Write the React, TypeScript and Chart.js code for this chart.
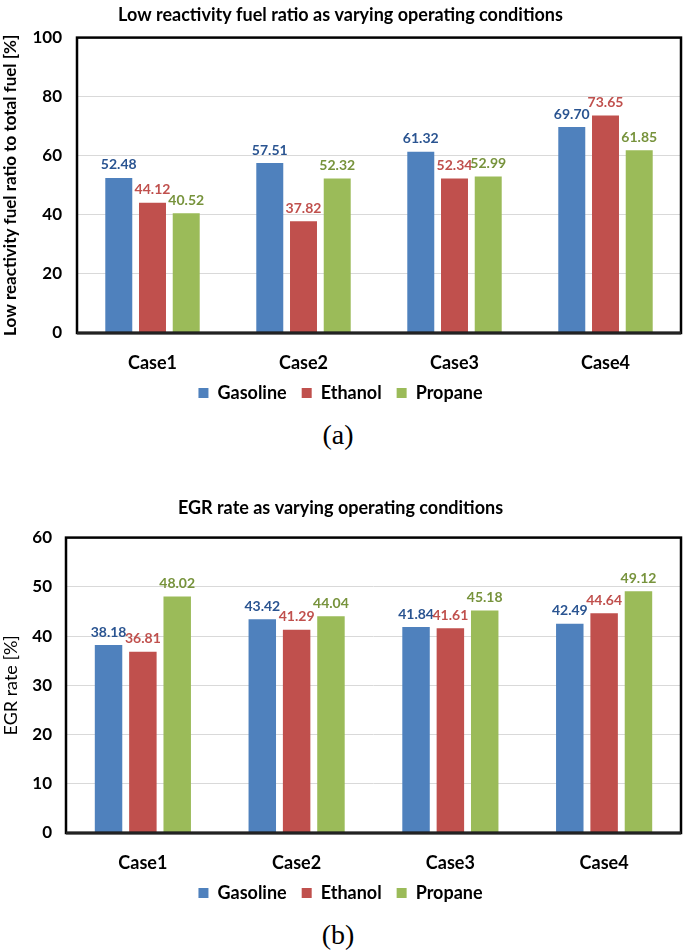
import React, { useEffect, useRef } from "react";
import { Chart, registerables } from "chart.js";

Chart.register(...registerables);

const categories = ["Case1", "Case2", "Case3", "Case4"];
const seriesNames = ["Gasoline", "Ethanol", "Propane"];

const ratioGasoline = [52.48, 57.51, 61.32, 69.7];
const ratioEthanol = [44.12, 37.82, 52.34, 73.65];
const ratioPropane = [40.52, 52.32, 52.99, 61.85];

const egrGasoline = [38.18, 43.42, 41.84, 42.49];
const egrEthanol = [36.81, 41.29, 41.61, 44.64];
const egrPropane = [48.02, 44.04, 45.18, 49.12];

const ratioTicksMax = 100;
const ratioTicksStep = 20;
const egrTicksMax = 60;
const egrTicksStep = 10;

const barColors = ["#4F81BD", "#C0504D", "#9BBB59"];
const labelColors = ["#2A5491", "#C0504D", "#77933C"];

const FONT = 'Lato, "Open Sans", "Liberation Sans", sans-serif';

const valueLabelPlugin = {
  id: "valueLabels",
  afterDatasetsDraw(chart: any) {
    const ctx = chart.ctx;
    const { left, top, right, bottom } = chart.chartArea;
    ctx.save();
    ctx.strokeStyle = "#000";
    ctx.lineWidth = 2.5;
    ctx.strokeRect(left, top, right - left, bottom - top);
    ctx.beginPath();
    ctx.lineWidth = 3;
    ctx.strokeStyle = "#222";
    ctx.moveTo(left, bottom);
    ctx.lineTo(right, bottom);
    ctx.stroke();
    ctx.font = `bold 14px ${FONT}`;
    ctx.textAlign = "center";
    ctx.textBaseline = "middle";
    chart.data.datasets.forEach((ds: any, i: number) => {
      const meta = chart.getDatasetMeta(i);
      ctx.fillStyle = labelColors[i];
      meta.data.forEach((el: any, j: number) => {
        ctx.fillText(Number(ds.data[j]).toFixed(2), el.x, el.y - 13);
      });
    });
    ctx.restore();
  },
};

function makeConfig(
  title: string,
  yTitle: string,
  yTitleBold: boolean,
  series: number[][],
  max: number,
  step: number,
  axisWidth: number,
  tickPad: number,
  titlePad: { top: number; bottom: number }
): any {
  return {
    type: "bar",
    data: {
      labels: categories,
      datasets: series.map((d, i) => ({
        label: seriesNames[i],
        data: d,
        backgroundColor: barColors[i],
        borderWidth: 0,
        categoryPercentage: 0.67,
        barPercentage: 0.8,
      })),
    },
    options: {
      responsive: false,
      animation: false,
      devicePixelRatio: 1,
      layout: { padding: { left: 0, right: 4, top: 0, bottom: 0 } },
      plugins: {
        title: {
          display: true,
          text: title,
          color: "#000",
          font: { family: FONT, size: 18, weight: "bold" },
          padding: titlePad,
        },
        legend: {
          display: true,
          position: "bottom",
          labels: {
            boxWidth: 10,
            boxHeight: 10,
            color: "#000",
            padding: 15,
            font: { family: FONT, size: 18, weight: "bold" },
          },
        },
        tooltip: { enabled: false },
      },
      scales: {
        x: {
          grid: { display: false, drawTicks: false },
          border: { display: false },
          ticks: {
            color: "#000",
            padding: 19,
            font: { family: FONT, size: 18, weight: "bold" },
          },
          afterFit(scale: any) {
            scale.height = 36;
          },
        },
        y: {
          min: 0,
          max: max,
          ticks: {
            stepSize: step,
            color: "#000",
            padding: tickPad,
            font: { family: FONT, size: 17, weight: "bold" },
          },
          grid: { color: "#D9D9D9", lineWidth: 1, drawTicks: false },
          border: { display: false },
          title: {
            display: true,
            text: yTitle,
            color: "#000",
            padding: { top: 0, bottom: 0 },
            font: { family: FONT, size: yTitleBold ? 17 : 18, weight: yTitleBold ? "bold" : "normal" },
          },
          afterFit(scale: any) {
            scale.width = axisWidth;
          },
        },
      },
    },
    plugins: [valueLabelPlugin],
  };
}

function BarChart(props: { config: any; width: number; height: number }) {
  const ref = useRef<HTMLCanvasElement | null>(null);
  useEffect(() => {
    if (!ref.current) return;
    const chart = new Chart(ref.current, props.config);
    return () => chart.destroy();
  }, []);
  return <canvas ref={ref} width={props.width} height={props.height} style={{ display: "block" }} />;
}

export default function App() {
  const configA = makeConfig(
    "Low reactivity fuel ratio as varying operating conditions",
    "Low reactivity fuel ratio to total fuel [%]",
    true,
    [ratioGasoline, ratioEthanol, ratioPropane],
    ratioTicksMax,
    ratioTicksStep,
    77,
    15,
    { top: 4, bottom: 12 }
  );
  const configB = makeConfig(
    "EGR rate as varying operating conditions",
    "EGR rate [%]",
    false,
    [egrGasoline, egrEthanol, egrPropane],
    egrTicksMax,
    egrTicksStep,
    66,
    14,
    { top: 17, bottom: 19 }
  );
  const captionStyle: React.CSSProperties = {
    position: "absolute",
    left: 0,
    width: 676,
    textAlign: "center",
    fontFamily: '"Liberation Serif", "Times New Roman", serif',
    fontSize: 28,
    lineHeight: "28px",
    color: "#000",
  };
  return (
    <div style={{ position: "absolute", left: 0, top: 0, width: 685, height: 952, background: "#fff" }}>
      <div style={{ position: "absolute", left: 0, top: 0 }}>
        <BarChart config={configA} width={685} height={412} />
      </div>
      <div style={{ ...captionStyle, top: 421 }}>(a)</div>
      <div style={{ position: "absolute", left: 0, top: 480 }}>
        <BarChart config={configB} width={685} height={432} />
      </div>
      <div style={{ ...captionStyle, top: 921 }}>(b)</div>
    </div>
  );
}
